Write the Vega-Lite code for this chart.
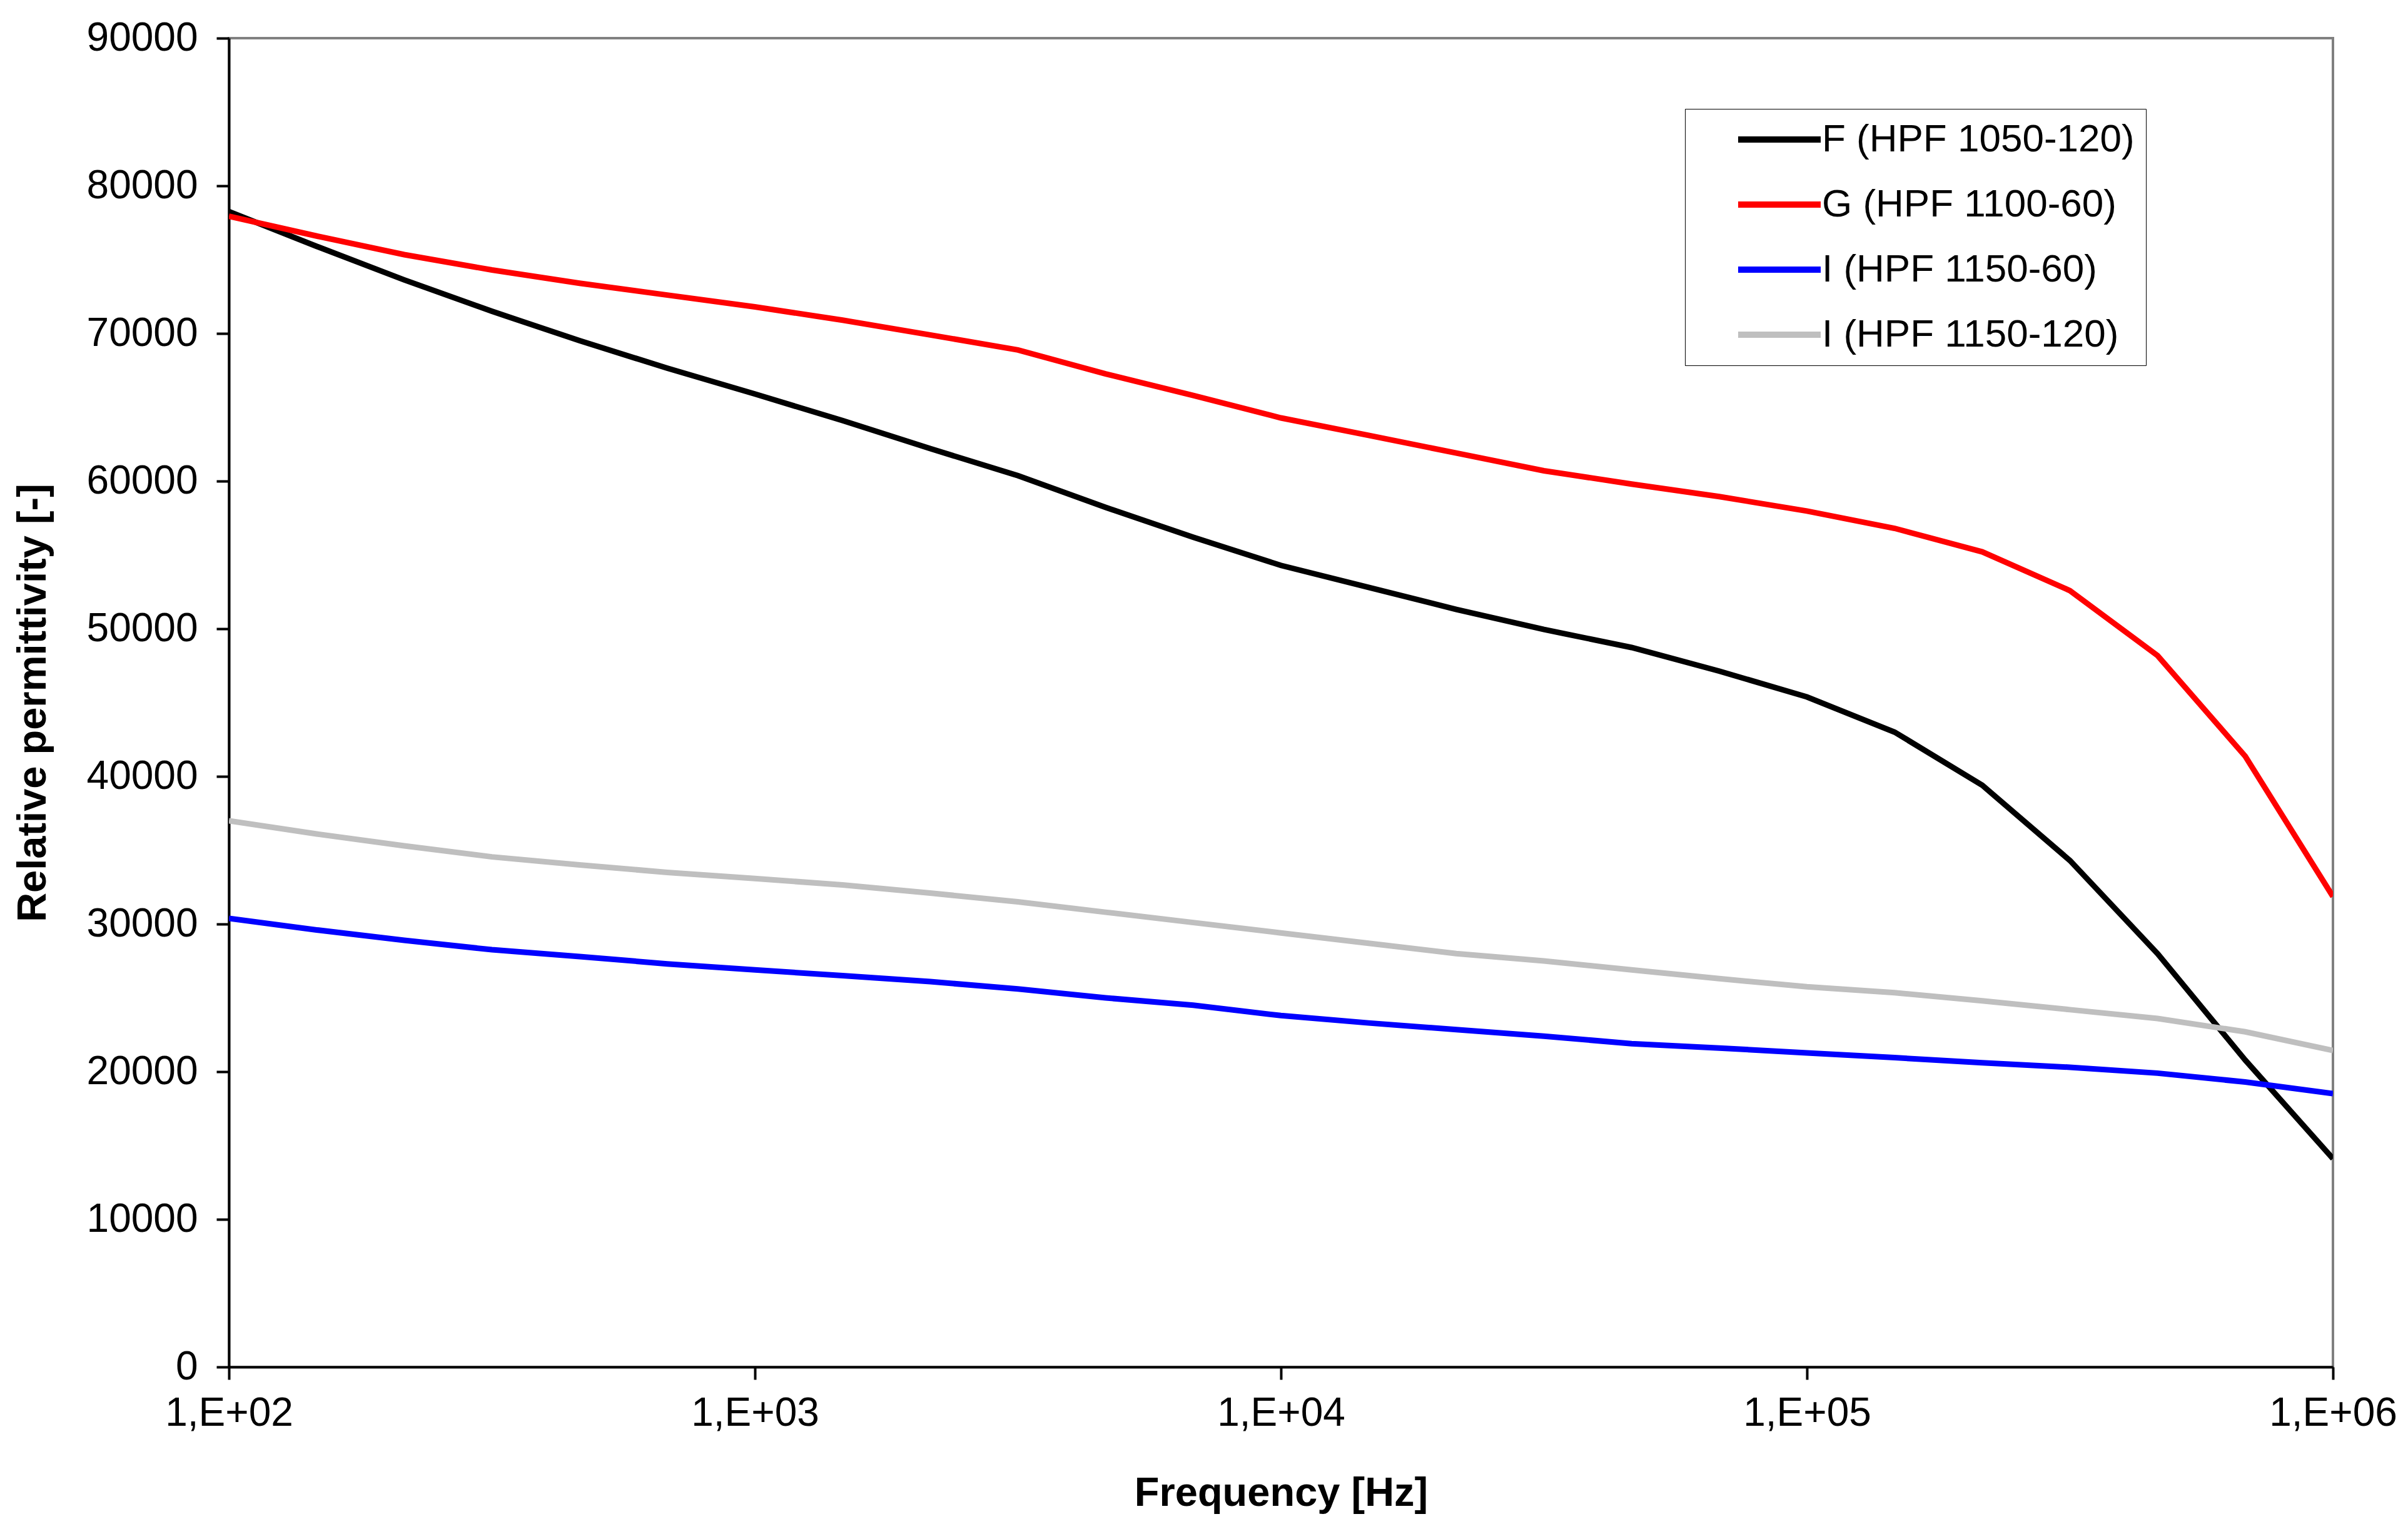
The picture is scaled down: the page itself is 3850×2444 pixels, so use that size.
{
  "$schema": "https://vega.github.io/schema/vega-lite/v6.json",
  "autosize": {"type": "none"},
  "width": 3364,
  "height": 2124,
  "padding": {"left": 366, "top": 61, "right": 120, "bottom": 259},
  "background": "white",
  "config": {
    "font": "Liberation Sans",
    "view": {"stroke": "#808080", "strokeWidth": 4},
    "axis": {
      "labelFont": "Liberation Sans",
      "titleFont": "Liberation Sans",
      "labelFontSize": 64,
      "titleFontSize": 65,
      "titleFontWeight": "bold",
      "labelColor": "black",
      "titleColor": "black",
      "domainColor": "black",
      "domainWidth": 4,
      "tickColor": "black",
      "tickWidth": 4,
      "tickSize": 20,
      "labelLimit": 1000,
      "grid": false
    },
    "legend": {
      "labelFont": "Liberation Sans",
      "labelFontSize": 62,
      "labelColor": "black"
    }
  },
  "data": {
    "values": [
      {"f": 100, "s": "F (HPF 1050-120)", "v": 78260},
      {"f": 146.8, "s": "F (HPF 1050-120)", "v": 75900},
      {"f": 215.4, "s": "F (HPF 1050-120)", "v": 73630},
      {"f": 316.2, "s": "F (HPF 1050-120)", "v": 71500},
      {"f": 464.2, "s": "F (HPF 1050-120)", "v": 69510},
      {"f": 681.3, "s": "F (HPF 1050-120)", "v": 67650},
      {"f": 1000, "s": "F (HPF 1050-120)", "v": 65900},
      {"f": 1468, "s": "F (HPF 1050-120)", "v": 64100},
      {"f": 2154, "s": "F (HPF 1050-120)", "v": 62200},
      {"f": 3162, "s": "F (HPF 1050-120)", "v": 60370},
      {"f": 4642, "s": "F (HPF 1050-120)", "v": 58220},
      {"f": 6813, "s": "F (HPF 1050-120)", "v": 56200},
      {"f": 10000, "s": "F (HPF 1050-120)", "v": 54290},
      {"f": 14678, "s": "F (HPF 1050-120)", "v": 52800},
      {"f": 21544, "s": "F (HPF 1050-120)", "v": 51310},
      {"f": 31623, "s": "F (HPF 1050-120)", "v": 49950},
      {"f": 46416, "s": "F (HPF 1050-120)", "v": 48730},
      {"f": 68129, "s": "F (HPF 1050-120)", "v": 47130},
      {"f": 100000, "s": "F (HPF 1050-120)", "v": 45380},
      {"f": 146780, "s": "F (HPF 1050-120)", "v": 43000},
      {"f": 215440, "s": "F (HPF 1050-120)", "v": 39400},
      {"f": 316230, "s": "F (HPF 1050-120)", "v": 34300},
      {"f": 464160, "s": "F (HPF 1050-120)", "v": 27990},
      {"f": 681290, "s": "F (HPF 1050-120)", "v": 20780},
      {"f": 1000000, "s": "F (HPF 1050-120)", "v": 14110},

      {"f": 100, "s": "G (HPF 1100-60)", "v": 77940},
      {"f": 146.8, "s": "G (HPF 1100-60)", "v": 76600},
      {"f": 215.4, "s": "G (HPF 1100-60)", "v": 75340},
      {"f": 316.2, "s": "G (HPF 1100-60)", "v": 74300},
      {"f": 464.2, "s": "G (HPF 1100-60)", "v": 73400},
      {"f": 681.3, "s": "G (HPF 1100-60)", "v": 72600},
      {"f": 1000, "s": "G (HPF 1100-60)", "v": 71800},
      {"f": 1468, "s": "G (HPF 1100-60)", "v": 70900},
      {"f": 2154, "s": "G (HPF 1100-60)", "v": 69900},
      {"f": 3162, "s": "G (HPF 1100-60)", "v": 68880},
      {"f": 4642, "s": "G (HPF 1100-60)", "v": 67260},
      {"f": 6813, "s": "G (HPF 1100-60)", "v": 65800},
      {"f": 10000, "s": "G (HPF 1100-60)", "v": 64280},
      {"f": 14678, "s": "G (HPF 1100-60)", "v": 63100},
      {"f": 21544, "s": "G (HPF 1100-60)", "v": 61900},
      {"f": 31623, "s": "G (HPF 1100-60)", "v": 60700},
      {"f": 46416, "s": "G (HPF 1100-60)", "v": 59800},
      {"f": 68129, "s": "G (HPF 1100-60)", "v": 58950},
      {"f": 100000, "s": "G (HPF 1100-60)", "v": 57970},
      {"f": 146780, "s": "G (HPF 1100-60)", "v": 56800},
      {"f": 215440, "s": "G (HPF 1100-60)", "v": 55210},
      {"f": 316230, "s": "G (HPF 1100-60)", "v": 52580},
      {"f": 464160, "s": "G (HPF 1100-60)", "v": 48180},
      {"f": 681290, "s": "G (HPF 1100-60)", "v": 41360},
      {"f": 1000000, "s": "G (HPF 1100-60)", "v": 31860},

      {"f": 100, "s": "I (HPF 1150-60)", "v": 30380},
      {"f": 146.8, "s": "I (HPF 1150-60)", "v": 29600},
      {"f": 215.4, "s": "I (HPF 1150-60)", "v": 28900},
      {"f": 316.2, "s": "I (HPF 1150-60)", "v": 28260},
      {"f": 464.2, "s": "I (HPF 1150-60)", "v": 27800},
      {"f": 681.3, "s": "I (HPF 1150-60)", "v": 27300},
      {"f": 1000, "s": "I (HPF 1150-60)", "v": 26900},
      {"f": 1468, "s": "I (HPF 1150-60)", "v": 26500},
      {"f": 2154, "s": "I (HPF 1150-60)", "v": 26100},
      {"f": 3162, "s": "I (HPF 1150-60)", "v": 25600},
      {"f": 4642, "s": "I (HPF 1150-60)", "v": 25000},
      {"f": 6813, "s": "I (HPF 1150-60)", "v": 24500},
      {"f": 10000, "s": "I (HPF 1150-60)", "v": 23800},
      {"f": 14678, "s": "I (HPF 1150-60)", "v": 23300},
      {"f": 21544, "s": "I (HPF 1150-60)", "v": 22850},
      {"f": 31623, "s": "I (HPF 1150-60)", "v": 22400},
      {"f": 46416, "s": "I (HPF 1150-60)", "v": 21900},
      {"f": 68129, "s": "I (HPF 1150-60)", "v": 21600},
      {"f": 100000, "s": "I (HPF 1150-60)", "v": 21270},
      {"f": 146780, "s": "I (HPF 1150-60)", "v": 20950},
      {"f": 215440, "s": "I (HPF 1150-60)", "v": 20600},
      {"f": 316230, "s": "I (HPF 1150-60)", "v": 20300},
      {"f": 464160, "s": "I (HPF 1150-60)", "v": 19900},
      {"f": 681290, "s": "I (HPF 1150-60)", "v": 19300},
      {"f": 1000000, "s": "I (HPF 1150-60)", "v": 18520},

      {"f": 100, "s": "I (HPF 1150-120)", "v": 36990},
      {"f": 146.8, "s": "I (HPF 1150-120)", "v": 36100},
      {"f": 215.4, "s": "I (HPF 1150-120)", "v": 35300},
      {"f": 316.2, "s": "I (HPF 1150-120)", "v": 34550},
      {"f": 464.2, "s": "I (HPF 1150-120)", "v": 34000},
      {"f": 681.3, "s": "I (HPF 1150-120)", "v": 33500},
      {"f": 1000, "s": "I (HPF 1150-120)", "v": 33080},
      {"f": 1468, "s": "I (HPF 1150-120)", "v": 32650},
      {"f": 2154, "s": "I (HPF 1150-120)", "v": 32100},
      {"f": 3162, "s": "I (HPF 1150-120)", "v": 31500},
      {"f": 4642, "s": "I (HPF 1150-120)", "v": 30800},
      {"f": 6813, "s": "I (HPF 1150-120)", "v": 30100},
      {"f": 10000, "s": "I (HPF 1150-120)", "v": 29400},
      {"f": 14678, "s": "I (HPF 1150-120)", "v": 28700},
      {"f": 21544, "s": "I (HPF 1150-120)", "v": 28000},
      {"f": 31623, "s": "I (HPF 1150-120)", "v": 27500},
      {"f": 46416, "s": "I (HPF 1150-120)", "v": 26900},
      {"f": 68129, "s": "I (HPF 1150-120)", "v": 26300},
      {"f": 100000, "s": "I (HPF 1150-120)", "v": 25750},
      {"f": 146780, "s": "I (HPF 1150-120)", "v": 25350},
      {"f": 215440, "s": "I (HPF 1150-120)", "v": 24800},
      {"f": 316230, "s": "I (HPF 1150-120)", "v": 24200},
      {"f": 464160, "s": "I (HPF 1150-120)", "v": 23600},
      {"f": 681290, "s": "I (HPF 1150-120)", "v": 22700},
      {"f": 1000000, "s": "I (HPF 1150-120)", "v": 21440}
    ]
  },
  "mark": {"type": "line", "strokeWidth": 9, "clip": true},
  "encoding": {
    "x": {
      "field": "f",
      "type": "quantitative",
      "scale": {"type": "log", "domain": [100, 1000000], "nice": false},
      "axis": {
        "title": "Frequency [Hz]",
        "values": [100, 1000, 10000, 100000, 1000000],
        "labelExpr": "'1,E+0' + round(log(datum.value) / LN10)",
        "labelPadding": 22,
        "titlePadding": 64,
        "labelFlush": false
      }
    },
    "y": {
      "field": "v",
      "type": "quantitative",
      "scale": {"domain": [0, 90000], "nice": false, "zero": true},
      "axis": {
        "title": "Relative permittivity [-]",
        "values": [0, 10000, 20000, 30000, 40000, 50000, 60000, 70000, 80000, 90000],
        "format": "d",
        "labelPadding": 30,
        "titlePadding": 80
      }
    },
    "color": {
      "field": "s",
      "type": "nominal",
      "sort": ["F (HPF 1050-120)", "G (HPF 1100-60)", "I (HPF 1150-60)", "I (HPF 1150-120)"],
      "scale": {
        "domain": ["F (HPF 1050-120)", "G (HPF 1100-60)", "I (HPF 1150-60)", "I (HPF 1150-120)"],
        "range": ["#000000", "#FF0000", "#0000FF", "#BFBFBF"]
      },
      "legend": {
        "title": null,
        "orient": "none",
        "legendX": 2328,
        "legendY": 113,
        "strokeColor": "black",
        "fillColor": "white",
        "padding": 18,
        "symbolType": "M-3,0H3",
        "symbolSize": 1936,
        "symbolStrokeWidth": 10,
        "symbolOffset": 102,
        "labelOffset": 37,
        "rowPadding": 42,
        "labelLimit": 1000
      }
    }
  }
}
